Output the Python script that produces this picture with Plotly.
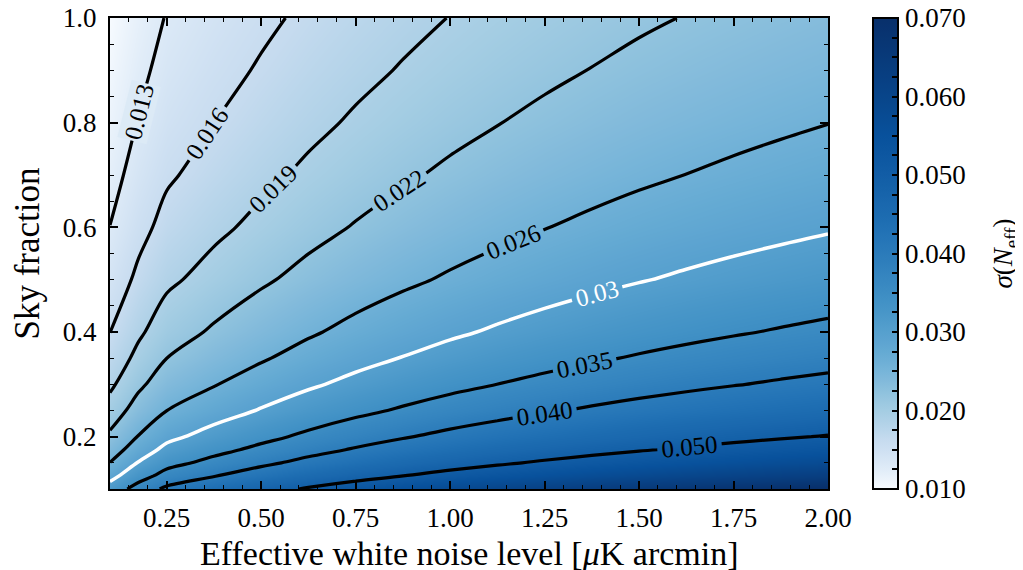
import math
import plotly.graph_objects as go
from plotly.colors import sample_colorscale

# Effective white noise level [muK arcmin]
noise = [0.1, 0.175, 0.25, 0.375, 0.5, 0.625, 0.75, 0.875, 1.0, 1.125, 1.25,
         1.375, 1.5, 1.625, 1.75, 1.875, 2.0]
# Sky fraction
fsky = [0.1, 0.125, 0.15, 0.175, 0.2, 0.25, 0.3, 0.35, 0.4, 0.5, 0.6, 0.7, 0.8, 0.9, 1.0]

# sigma(N_eff), one row per sky fraction, one column per noise level
sigma = [
    [0.03194, 0.03694, 0.04099, 0.04447, 0.04762, 0.05063, 0.05337, 0.05581, 0.05807, 0.06011, 0.06199, 0.06372, 0.06533, 0.06682, 0.06822, 0.06953, 0.07077],
    [0.02857, 0.03305, 0.03667, 0.03980, 0.04262, 0.04533, 0.04778, 0.04997, 0.05199, 0.05382, 0.05551, 0.05706, 0.05851, 0.05985, 0.06110, 0.06227, 0.06339],
    [0.02608, 0.03018, 0.03349, 0.03635, 0.03894, 0.04141, 0.04365, 0.04566, 0.04751, 0.04919, 0.05073, 0.05216, 0.05348, 0.05470, 0.05585, 0.05692, 0.05794],
    [0.02414, 0.02794, 0.03102, 0.03368, 0.03608, 0.03837, 0.04045, 0.04232, 0.04404, 0.04559, 0.04703, 0.04835, 0.04957, 0.05071, 0.05178, 0.05277, 0.05371],
    [0.02258, 0.02614, 0.02903, 0.03152, 0.03377, 0.03592, 0.03787, 0.03962, 0.04124, 0.04270, 0.04404, 0.04528, 0.04643, 0.04750, 0.04849, 0.04943, 0.05031],
    [0.02020, 0.02339, 0.02598, 0.02823, 0.03025, 0.03219, 0.03394, 0.03551, 0.03696, 0.03827, 0.03949, 0.04060, 0.04163, 0.04259, 0.04349, 0.04432, 0.04512],
    [0.01844, 0.02136, 0.02373, 0.02580, 0.02766, 0.02943, 0.03104, 0.03248, 0.03381, 0.03502, 0.03613, 0.03715, 0.03810, 0.03898, 0.03980, 0.04057, 0.04130],
    [0.01707, 0.01978, 0.02199, 0.02391, 0.02565, 0.02729, 0.02879, 0.03013, 0.03137, 0.03249, 0.03353, 0.03448, 0.03537, 0.03618, 0.03694, 0.03766, 0.03834],
    [0.01597, 0.01851, 0.02059, 0.02240, 0.02403, 0.02557, 0.02698, 0.02824, 0.02941, 0.03046, 0.03144, 0.03233, 0.03316, 0.03393, 0.03465, 0.03532, 0.03595],
    [0.01428, 0.01657, 0.01844, 0.02008, 0.02156, 0.02295, 0.02422, 0.02536, 0.02641, 0.02737, 0.02825, 0.02906, 0.02981, 0.03050, 0.03115, 0.03175, 0.03233],
    [0.01304, 0.01514, 0.01686, 0.01837, 0.01974, 0.02102, 0.02219, 0.02324, 0.02421, 0.02509, 0.02591, 0.02665, 0.02735, 0.02798, 0.02858, 0.02913, 0.02966],
    [0.01207, 0.01403, 0.01563, 0.01705, 0.01833, 0.01953, 0.02061, 0.02160, 0.02251, 0.02333, 0.02410, 0.02479, 0.02544, 0.02603, 0.02659, 0.02711, 0.02760],
    [0.01129, 0.01313, 0.01464, 0.01599, 0.01719, 0.01832, 0.01935, 0.02028, 0.02114, 0.02192, 0.02264, 0.02330, 0.02392, 0.02447, 0.02499, 0.02548, 0.02595],
    [0.01065, 0.01239, 0.01382, 0.01511, 0.01626, 0.01733, 0.01831, 0.01919, 0.02001, 0.02075, 0.02144, 0.02207, 0.02266, 0.02318, 0.02368, 0.02414, 0.02459],
    [0.01010, 0.01176, 0.01313, 0.01436, 0.01547, 0.01650, 0.01743, 0.01828, 0.01906, 0.01977, 0.02043, 0.02104, 0.02160, 0.02210, 0.02257, 0.02302, 0.02344],
]

contour_levels = [0.013, 0.016, 0.019, 0.022, 0.026, 0.03, 0.035, 0.040, 0.050]
contour_labels_fmt = [".3f", ".3f", ".3f", ".3f", ".3f", ".2f", ".3f", ".3f", ".3f"]
highlight_level = 0.03
# the short 0.013 contour is not labelled automatically; its label sits on the line here
manual_label_level = 0.013
manual_label_pos = (0.176, 0.82)

xticks = [0.25, 0.50, 0.75, 1.00, 1.25, 1.50, 1.75, 2.00]
yticks = [0.2, 0.4, 0.6, 0.8, 1.0]
cbar_major = [0.010, 0.020, 0.030, 0.040, 0.050, 0.060, 0.070]
cbar_minor_step = 0.0025
ZMIN, ZMAX = 0.010, 0.070

blues = ["rgb(247,251,255)", "rgb(222,235,247)", "rgb(198,219,239)", "rgb(158,202,225)",
         "rgb(107,174,214)", "rgb(66,146,198)", "rgb(33,113,181)", "rgb(8,81,156)",
         "rgb(8,48,107)"]


def log_pos(z):
    return min(max(math.log(z / ZMIN) / math.log(ZMAX / ZMIN), 0.0), 1.0)


# logarithmic colour normalisation expressed as a colourscale on a linear z range
n_cs = 48
colorscale = []
for i in range(n_cs + 1):
    t = i / n_cs
    colorscale.append([t, sample_colorscale(blues, [log_pos(ZMIN + (ZMAX - ZMIN) * t)])[0]])

FONT = "Liberation Serif"

n_minor = int(round((cbar_major[-1] - cbar_major[0]) / cbar_minor_step))
cb_vals = [round(cbar_major[0] + i * cbar_minor_step, 5) for i in range(n_minor + 1)]
cb_text = [f"{v:.3f}" if any(abs(v - m) < 1e-9 for m in cbar_major) else "" for v in cb_vals]

fig = go.Figure()
fig.add_trace(go.Heatmap(
    x=noise, y=fsky, z=sigma, zsmooth="best", colorscale=colorscale,
    zmin=ZMIN, zmax=ZMAX, hoverinfo="skip",
    colorbar=dict(
        x=1.0627, xanchor="left", y=0.5, yanchor="middle", len=1.0, lenmode="fraction",
        thickness=25, xpad=0, ypad=0, outlinewidth=2, outlinecolor="black",
        tickmode="array", tickvals=cb_vals, ticktext=cb_text,
        ticks="inside", ticklen=7, tickwidth=1.5, tickcolor="black",
        ticklabeloverflow="allow",
        tickfont=dict(family=FONT, size=27, color="black"),
    ),
))

for lvl, fmt in zip(contour_levels, contour_labels_fmt):
    col = "white" if abs(lvl - highlight_level) < 1e-9 else "black"
    fig.add_trace(go.Contour(
        x=noise, y=fsky, z=sigma, autocontour=False, showscale=False, hoverinfo="skip",
        contours=dict(start=lvl, end=lvl, size=1, coloring="none", showlabels=True,
                      labelformat=fmt, labelfont=dict(family=FONT, size=25, color=col)),
        line=dict(color=col, width=3.5 if col == "white" else 3.2, smoothing=1.0),
    ))

fig.add_annotation(
    x=manual_label_pos[0], y=manual_label_pos[1], xref="x", yref="y",
    text=f"{manual_label_level:.3f}", showarrow=False, textangle=-76,
    font=dict(family=FONT, size=25, color="black"),
    bgcolor=sample_colorscale(blues, [log_pos(manual_label_level)])[0], borderpad=1,
)

axis_common = dict(
    showline=True, linewidth=2, linecolor="black", mirror="ticks",
    ticks="inside", ticklen=8, tickwidth=1.5, tickcolor="black",
    showgrid=False, zeroline=False, automargin=False, ticklabeloverflow="allow",
    tickfont=dict(family=FONT, size=27, color="black"),
)

fig.update_xaxes(
    range=[0.1, 2.0], tickmode="array", tickvals=xticks,
    ticktext=[f"{v:.2f}" for v in xticks], ticklabelstandoff=4,
    minor=dict(ticks="inside", tick0=0, dtick=0.05, ticklen=4, tickwidth=1, tickcolor="black"),
    **axis_common,
)
fig.update_yaxes(
    range=[0.1, 1.0], tickmode="array", tickvals=yticks,
    ticktext=[f"{v:.1f}" for v in yticks], ticklabelstandoff=6,
    minor=dict(ticks="inside", tick0=0, dtick=0.05, ticklen=4, tickwidth=1, tickcolor="black"),
    title=dict(text="Sky fraction", font=dict(family=FONT, size=35, color="black"), standoff=20),
    **axis_common,
)

# x-axis title, placed below the tick labels
fig.add_annotation(
    text="Effective white noise level [<i>μ</i>K arcmin]", xref="paper", yref="paper",
    x=0.5, y=-0.1359, xanchor="center", yanchor="middle", showarrow=False,
    font=dict(family=FONT, size=34, color="black"),
)

fig.add_annotation(
    text="<i>σ</i>(<i>N</i><sub>eff</sub>)", xref="paper", yref="paper",
    x=1.2465, y=0.5, xanchor="center", yanchor="middle", textangle=-90,
    showarrow=False, font=dict(family=FONT, size=27, color="black"),
)

# the page body adds an 8 px margin, so the figure is 8 px smaller on each side
fig.update_layout(
    width=1015, height=562,
    margin=dict(l=102, r=195, t=10, b=81),
    paper_bgcolor="white", plot_bgcolor="white",
    showlegend=False,
    font=dict(family=FONT, color="black"),
)

fig.write_html("out.html")
